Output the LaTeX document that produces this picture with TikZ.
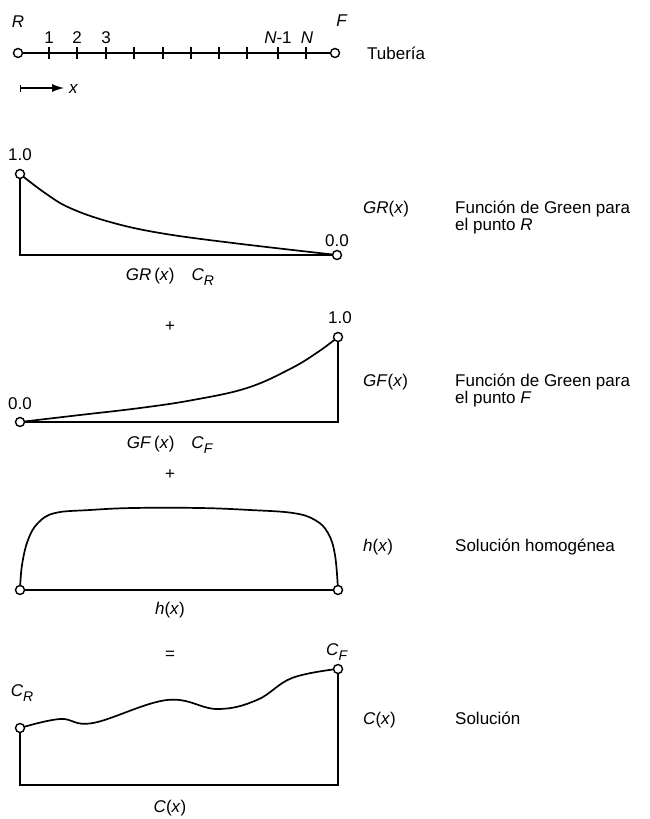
\documentclass[tikz,border=0pt]{standalone}
\usepackage{fontspec}
\setmainfont{Liberation Sans}
\usetikzlibrary{arrows.meta}
\newcommand{\iv}[1]{\textit{#1}}
\newcommand{\ivsub}[2]{\textit{#1}\raisebox{-0.5ex}{\fontsize{14}{14}\selectfont\textit{#2}}}

\begin{document}
\begin{tikzpicture}[x=1pt,y=-1pt,
  font=\fontsize{17}{17}\selectfont,
  lbl/.style={inner sep=0pt},
  side/.style={inner sep=0pt,anchor=base west},
  pt/.style={draw,circle,fill=white,inner sep=0pt,minimum size=9pt,line width=1.4pt},
  wire/.style={line width=1.5pt},
  curve/.style={line width=1.7pt,smooth,tension=0.65},
  tickmark/.style={line width=1.2pt}]
\useasboundingbox (0,0) rectangle (649,819);
% pipe
\node[pt] (pR) at (18,53) {};
\node[pt] (pF) at (335,53) {};
\draw[wire] (pR)--(pF);
\foreach \tx in {49,77,106,134,163,191,219,247,278,306}
  \draw[tickmark] (\tx,47)--(\tx,59);
\node[lbl] (lR) at (18,22) {\iv{R}};
\node[lbl] (lF) at (342,21) {\iv{F}};
\node[lbl] (n1) at (49,38) {1};
\node[lbl] (n2) at (77,38) {2};
\node[lbl] (n3) at (106,38) {3};
\node[lbl] (nN1) at (278,38) {\iv{N}-1};
\node[lbl] (nN) at (307,38) {\iv{N}};
\node[side] (tub) at (367,59) {Tubería};
\coordinate (ax0) at (20,88);
\coordinate (ax1) at (64,88);
\draw[line width=1.2pt,{Bar[width=7pt]}-{Latex[length=12pt,width=8pt]}] (ax0)--(ax1);
\node[lbl,anchor=west] (lx) at (69,89) {\iv{x}};

% Green function for R
\coordinate (g1a) at (20,174);
\coordinate (g1b) at (20,255);
\coordinate (g1c) at (337,255);
\draw[curve] plot coordinates {(20,174) (45,193) (70,208) (110,222) (160,233) (233,243) (337,255)};
\node[pt] (g1top) at (g1a) {};
\node[pt] (g1end) at (g1c) {};
\draw[wire] (g1top)--(g1b)--(g1end);
\node[lbl] (g1v1) at (20,155) {1.0};
\node[lbl] (g1v0) at (337,241) {0.0};
\node[lbl] (g1cap) at (170,277) {\iv{GR}\,(\iv{x})\quad\ivsub{C}{R}};
\node[side] (g1name) at (363,213) {\iv{GR}(\iv{x})};
\node[side] (g1d1) at (455,213) {Función de Green para};
\node[side] (g1d2) at (455,230) {el punto \iv{R}};

\node[lbl] (plus1) at (170,327) {+};

% Green function for F
\coordinate (g2a) at (20,422);
\coordinate (g2b) at (338,422);
\coordinate (g2c) at (338,337);
\draw[curve] plot coordinates {(20,422) (80,415) (140,408) (193,400) (247,388) (290,369) (318,352) (338,337)};
\node[pt] (g2start) at (g2a) {};
\node[pt] (g2top) at (g2c) {};
\draw[wire] (g2start)--(g2b)--(g2top);
\node[lbl] (g2v1) at (340,318) {1.0};
\node[lbl] (g2v0) at (20,404) {0.0};
\node[lbl] (g2cap) at (170,445) {\iv{GF}\,(\iv{x})\quad\ivsub{C}{F}};
\node[side] (g2name) at (363,386) {\iv{GF}(\iv{x})};
\node[side] (g2d1) at (455,386) {Función de Green para};
\node[side] (g2d2) at (455,403) {el punto \iv{F}};

\node[lbl] (plus2) at (170,475) {+};

% homogeneous solution
\draw[curve] plot coordinates {(20,590) (22,565) (28,540) (38,523) (55,513) (90,510) (133,508) (200,508) (250,510) (293,513) (315,520) (328,533) (335,555) (338,590)};
\node[pt] (h3L) at (20,590) {};
\node[pt] (h3R) at (338,590) {};
\draw[wire] (h3L)--(h3R);
\node[lbl] (h3cap) at (170,610) {\iv{h}(\iv{x})};
\node[side] (h3name) at (363,551) {\iv{h}(\iv{x})};
\node[side] (h3d) at (455,551) {Solución homogénea};

\node[lbl] (eq) at (170,655) {=};

% solution
\coordinate (c4a) at (20,728);
\coordinate (c4b) at (20,785);
\coordinate (c4c) at (338,785);
\coordinate (c4d) at (338,669);
\draw[curve] plot coordinates {(20,728) (60,719) (93,723) (167,700) (217,709) (257,700) (292,678) (337,669)};
\node[pt] (c4L) at (c4a) {};
\node[pt] (c4R) at (c4d) {};
\draw[wire] (c4L)--(c4b)--(c4c)--(c4R);
\node[lbl] (c4vR) at (22,693) {\ivsub{C}{R}};
\node[lbl] (c4vF) at (337,652) {\ivsub{C}{F}};
\node[lbl] (c4cap) at (170,808) {\iv{C}(\iv{x})};
\node[side] (c4name) at (363,724) {\iv{C}(\iv{x})};
\node[side] (c4d) at (455,724) {Solución};
\end{tikzpicture}
\end{document}
